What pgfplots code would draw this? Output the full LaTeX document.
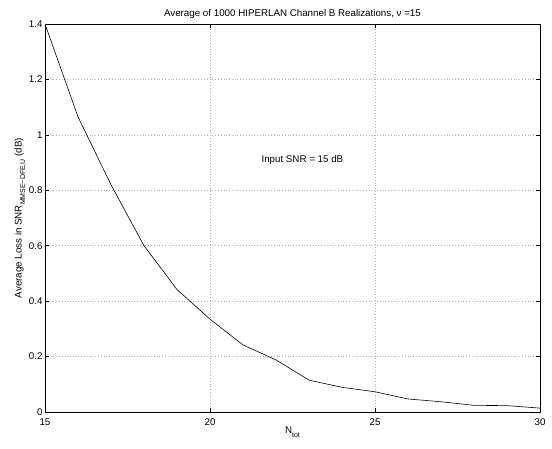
\documentclass[border=0pt]{standalone}
\usepackage{fontspec}
\setmainfont{Liberation Sans}
\usepackage{pgfplots}
\pgfplotsset{compat=1.18}
\begin{document}
\begin{tikzpicture}[font=\fontsize{9.8}{11.5}\selectfont]
\begin{axis}[
  scale only axis,
  width=495bp, height=388bp,
  xmin=15, xmax=30, ymin=0, ymax=1.4,
  xtick={15,20,25,30},
  ytick={0,0.2,0.4,0.6,0.8,1,1.2,1.4},
  yticklabels={0,0.2,0.4,0.6,0.8,1,1.2,1.4},
  /pgf/number format/assume math mode=true,
  tick align=inside,
  major tick length=4bp,
  tick style={black, line width=0.5pt},
  axis line style={black, line width=0.6pt},
  grid=major,
  major grid style={gray!60, line width=0.5pt, dash pattern=on 0.6pt off 2.2pt},
  title={Average of 1000 HIPERLAN Channel B Realizations, ν =15},
  title style={yshift=-4bp},
  xlabel={N\raisebox{-0.6ex}{\scriptsize tot}},
  xlabel style={yshift=5bp},
  ylabel={Average Loss in SNR\raisebox{-0.7ex}{\scriptsize MMSE−DFE,U} (dB)},
  ylabel style={yshift=-4bp},
  xticklabel style={yshift=-3bp},
  yticklabel style={xshift=1bp},
]
\addplot[black, line width=0.6pt] coordinates {
  (15,1.40) (16,1.065) (17,0.82) (18,0.60) (19,0.442) (20,0.335)
  (21,0.242) (22,0.188) (23,0.115) (24,0.089) (25,0.073) (26,0.047)
  (27,0.037) (28,0.024) (29,0.023) (30,0.014)
};
\node[anchor=center] at (axis cs:22.8,0.91) {Input SNR = 15 dB};
\end{axis}
\path (current axis.south west) ++(-45bp,-37bp) coordinate (bbA);
\path (current axis.north east) ++(12bp,24bp) coordinate (bbB);
\path[use as bounding box] (bbA) rectangle (bbB);
\end{tikzpicture}
\end{document}
